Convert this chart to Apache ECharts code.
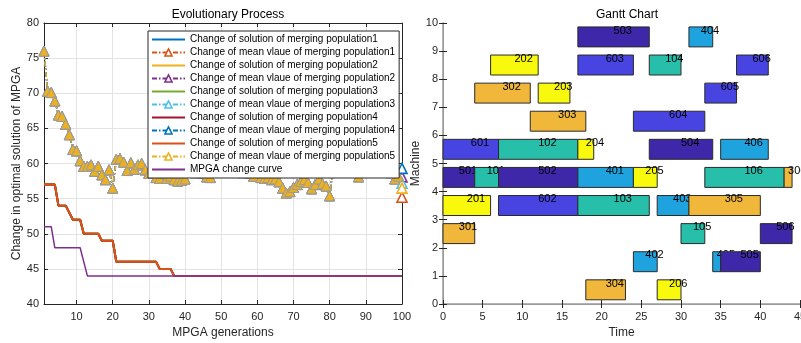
<!DOCTYPE html>
<html>
<head>
<meta charset="utf-8">
<script src="https://cdn.jsdelivr.net/npm/echarts@6/dist/echarts.min.js"></script>
<style>
html, body { margin: 0; padding: 0; background: #fff; }
#chart { width: 801px; height: 343px; }
</style>
</head>
<body>
<div id="chart"></div>
<script>
// ---- left: evolutionary process ----
// step curves as breakpoints (generation, value)
const solGen  = [1, 4, 5, 7, 8, 9, 11, 12, 16, 17, 20, 21, 32, 33, 36, 37, 100]
const solVal  = [57, 57, 54, 54, 53, 52, 52, 50, 50, 49, 49, 46, 46, 45, 45, 44, 44]
const mpgaGen = [1, 3, 4, 11, 12, 13, 100]
const mpgaVal = [51, 51, 48, 48, 46, 44, 44]

// mean value of merging population, generations 1..99 (same for all five)
const meanCurve = [
  76.0, 70.3, 70.1, 68.9, 66.9, 66.7, 65.6, 64.1, 62.0, 61.8,
  60.4, 59.6, 59.6, 59.8, 58.9, 59.6, 58.4, 57.7, 59.1, 56.5,
  60.6, 60.7, 60.2, 59.0, 60.1, 59.2, 59.8, 60.0, 59.1, 58.6,
  59.2, 58.0, 57.9, 58.6, 57.9, 58.2, 57.7, 57.5, 57.6, 57.8,
  58.9, 59.3, 58.7, 59.5, 58.6, 58.1, 58.0, 58.8, 59.4, 59.0,
  59.6, 58.9, 59.3, 59.8, 59.1, 58.7, 59.4, 58.6, 58.2, 58.9,
  58.0, 57.9, 58.0, 57.7, 57.8, 57.4, 56.5, 55.8, 56.0, 56.6,
  57.0, 57.4, 57.7, 57.3, 56.4, 57.0, 57.8, 57.1, 56.8, 55.4,
  59.5, 60.2, 59.4, 60.5, 59.8, 60.1, 59.2, 58.1, 59.6, 60.3,
  59.7, 60.8, 59.9, 60.4, 59.5, 59.2, 58.7, 57.8, 58.2
]
// generation 100 value of each population's mean
const meanLast = [55.2, 58.1, 57.2, 59.3, 56.5]

const solColors  = ['#0072BD', '#EDB120', '#77AC30', '#A2142F', '#D95319']
const meanColors = ['#D95319', '#7E2F8E', '#4DBEEE', '#0072BD', '#EDB120']
const mpgaColor  = '#7E2F8E'

// ---- right: gantt chart ----
const opLabel = ['101','102','103','104','105','106',
                 '201','202','203','204','205','206',
                 '301','302','303','304','305','306',
                 '401','402','403','404','405','406',
                 '501','502','503','504','505','506',
                 '601','602','603','604','605','606']
const opRow   = [4, 5, 3, 8, 2, 4,
                 3, 8, 7, 5, 4, 0,
                 2, 7, 6, 0, 3, 4,
                 4, 1, 3, 9, 1, 5,
                 4, 4, 9, 5, 1, 2,
                 5, 3, 8, 6, 7, 8]
const opStart = [4, 7, 17, 26, 30, 33,
                 0, 6, 12, 17, 24, 27,
                 0, 4, 11, 18, 31, 43,
                 17, 24, 27, 31, 34, 35,
                 0, 7, 17, 26, 35, 40,
                 0, 7, 17, 24, 33, 37]
const opEnd   = [7, 17, 26, 30, 33, 43,
                 6, 12, 16, 19, 27, 30,
                 4, 11, 18, 23, 40, 44,
                 24, 27, 31, 34, 35, 41,
                 4, 17, 26, 34, 40, 44,
                 7, 17, 24, 33, 37, 41]
const jobColors = ['#27BFA9', '#F9F90E', '#F0B73A', '#1EA3DE', '#3E27A8', '#4844E2']

const FONT = 'Liberation Sans, Arial, sans-serif'
const axisText = { color: '#262626', fontSize: 11, fontFamily: FONT }

const chart = echarts.init(document.getElementById('chart'))

let series = []
let legendData = []
const noDot = { color: 'rgba(0,0,0,0)', borderColor: 'rgba(0,0,0,0)', borderWidth: 0, opacity: 0 }
for (let p = 0; p < 5; p++) {
  const solName = 'Change of solution of merging population' + (p + 1)
  const meanName = 'Change of mean vlaue of merging population' + (p + 1)
  series.push({
    name: solName, type: 'line', xAxisIndex: 0, yAxisIndex: 0,
    data: solGen.map((g, i) => [g, solVal[i]]),
    symbol: 'none', color: solColors[p],
    lineStyle: { width: 2, color: solColors[p] },
    z: 2
  })
  const md = meanCurve.map((v, i) => [i + 1, v])
  md.push({ value: [100, meanLast[p]], itemStyle: { color: '#fff', borderColor: meanColors[p], borderWidth: 1.6 } })
  series.push({
    name: meanName, type: 'line', xAxisIndex: 0, yAxisIndex: 0,
    data: md,
    symbol: 'triangle', symbolSize: 10, showSymbol: true, color: meanColors[p],
    lineStyle: { width: 1.5, color: meanColors[p], type: [5, 2, 1.5, 2] },
    itemStyle: { color: meanColors[p], borderColor: '#9a9a9a', borderWidth: 1 },
    z: 3
  })
  legendData.push({ name: solName, itemStyle: noDot })
  legendData.push({ name: meanName, itemStyle: { color: '#fff', borderColor: meanColors[p], borderWidth: 1.5 } })
}
series.push({
  name: 'MPGA change curve', type: 'line', xAxisIndex: 0, yAxisIndex: 0,
  data: mpgaGen.map((g, i) => [g, mpgaVal[i]]),
  symbol: 'none', color: mpgaColor,
  lineStyle: { width: 1.5, color: mpgaColor },
  z: 4
})
legendData.push({ name: 'MPGA change curve', itemStyle: noDot })

// gantt ops, drawn in order of start time
const order = opLabel.map((_, i) => i).sort((a, b) => opStart[a] - opStart[b])
series.push({
  type: 'custom', xAxisIndex: 2, yAxisIndex: 2,
  data: order.map(i => [opRow[i], opStart[i], opEnd[i], i]),
  encode: { x: [1, 2], y: 0 },
  renderItem: function (params, api) {
    const row = api.value(0), s = api.value(1), e = api.value(2), idx = api.value(3)
    const p0 = api.coord([s, row + 0.86])
    const p1 = api.coord([e, row + 0.15])
    const job = parseInt(opLabel[idx][0]) - 1
    const tx = api.coord([(s + e) / 2, row + 0.73])
    return {
      type: 'group',
      children: [
        { type: 'rect', shape: { x: p0[0], y: p0[1], width: p1[0] - p0[0], height: p1[1] - p0[1] },
          style: { fill: jobColors[job], stroke: '#2b2b2b', lineWidth: 1 } },
        { type: 'text', x: tx[0], y: tx[1],
          style: { text: opLabel[idx], fill: '#000', fontSize: 11, fontFamily: FONT, align: 'left', verticalAlign: 'middle' } }
      ]
    }
  },
  z: 2
})

const mirror = (extra) => Object.assign({
  axisLabel: { show: false }, splitLine: { show: false },
  axisTick: { show: true, inside: true, length: 4, lineStyle: { color: '#262626' } },
  axisLine: { show: true, lineStyle: { color: '#262626', width: 1 } }
}, extra)

chart.setOption({
  animation: false,
  title: [
    { text: 'Evolutionary Process', left: 223, top: 4, textAlign: 'center',
      textStyle: { fontSize: 12, fontWeight: 'normal', color: '#000', fontFamily: FONT } },
    { text: 'Gantt Chart', left: 622, top: 4, textAlign: 'center',
      textStyle: { fontSize: 12, fontWeight: 'normal', color: '#000', fontFamily: FONT } }
  ],
  legend: {
    data: legendData,
    orient: 'vertical', left: 148, top: 31,
    backgroundColor: '#fff', borderColor: '#262626', borderWidth: 1,
    padding: [2, 4, 2, 3], itemGap: 0,
    itemWidth: 33, itemHeight: 9,
    selectedMode: false,
    textStyle: { fontSize: 10, color: '#000', fontFamily: FONT, lineHeight: 13 },
    z: 10
  },
  grid: [
    { left: 44, top: 23, width: 358, height: 281, outerBoundsMode: 'none' },
    { left: 443, top: 23, width: 357, height: 281, outerBoundsMode: 'none' }
  ],
  xAxis: [
    { gridIndex: 0, type: 'value', min: 1, max: 100, splitNumber: 10,
      name: 'MPGA generations', nameLocation: 'middle', nameGap: 22,
      nameTextStyle: { fontSize: 12, color: '#262626', fontFamily: FONT },
      axisLine: { show: true, lineStyle: { color: '#262626', width: 1 } },
      axisTick: { show: true, inside: true, length: 4, lineStyle: { color: '#262626' } },
      axisLabel: Object.assign({ margin: 7, formatter: v => (v === 1 ? '' : v) }, axisText),
      splitLine: { show: true, lineStyle: { color: '#e3e3e3', width: 1 } } },
    mirror({ gridIndex: 0, type: 'value', min: 1, max: 100, splitNumber: 10, position: 'top' }),
    { gridIndex: 1, type: 'value', min: 0, max: 45, interval: 5,
      name: 'Time', nameLocation: 'middle', nameGap: 22,
      nameTextStyle: { fontSize: 12, color: '#262626', fontFamily: FONT },
      axisLine: { show: true, lineStyle: { color: '#9a9a9a', width: 1.5 } },
      axisTick: { show: true, inside: true, length: 4, lineStyle: { color: '#262626' } },
      axisLabel: Object.assign({ margin: 7 }, axisText),
      splitLine: { show: false } },
    mirror({ gridIndex: 1, type: 'value', min: 0, max: 45, interval: 5, position: 'top',
      axisLine: { show: true, lineStyle: { color: '#9a9a9a', width: 1 } } })
  ],
  yAxis: [
    { gridIndex: 0, type: 'value', min: 40, max: 80, interval: 5,
      name: 'Change in optimal solution of MPGA', nameLocation: 'middle', nameGap: 21,
      nameTextStyle: { fontSize: 12, color: '#262626', fontFamily: FONT },
      axisLine: { show: true, lineStyle: { color: '#262626', width: 1 } },
      axisTick: { show: true, inside: true, length: 4, lineStyle: { color: '#262626' } },
      axisLabel: Object.assign({ margin: 5 }, axisText),
      splitLine: { show: true, lineStyle: { color: '#e3e3e3', width: 1 } } },
    mirror({ gridIndex: 0, type: 'value', min: 40, max: 80, interval: 5, position: 'right' }),
    { gridIndex: 1, type: 'value', min: 0, max: 10, interval: 1,
      name: 'Machine', nameLocation: 'middle', nameGap: 21,
      nameTextStyle: { fontSize: 12, color: '#262626', fontFamily: FONT },
      axisLine: { show: true, lineStyle: { color: '#9a9a9a', width: 1.5 } },
      axisTick: { show: true, inside: true, length: 4, lineStyle: { color: '#262626' } },
      axisLabel: Object.assign({ margin: 5 }, axisText),
      splitLine: { show: false } },
    mirror({ gridIndex: 1, type: 'value', min: 0, max: 10, interval: 1, position: 'right',
      axisLine: { show: true, lineStyle: { color: '#9a9a9a', width: 1 } } })
  ],
  series: series
})
</script>
</body>
</html>
